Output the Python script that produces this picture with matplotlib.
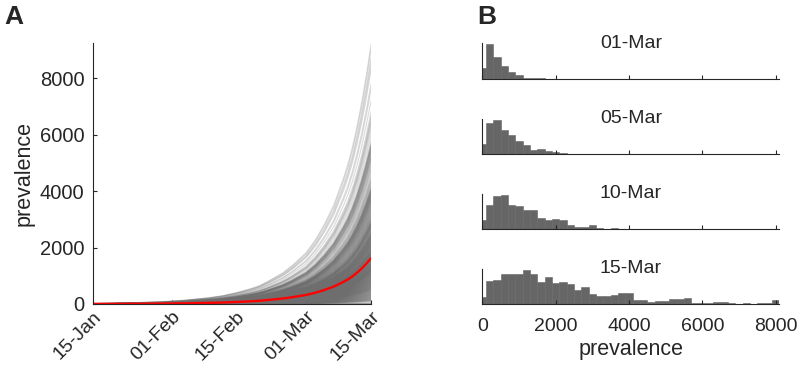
import numpy as np
import matplotlib
matplotlib.use("Agg")
import matplotlib.pyplot as plt
import matplotlib.dates as mdates

plt.rcParams['font.family'] = ['Liberation Sans', 'DejaVu Sans']

# panel A: median trajectory (red)
start = np.datetime64('2020-01-15')
median_days = [0, 5, 10, 15, 20, 25, 28, 31, 34, 36, 38, 41, 43, 46, 48, 50,
               52, 54, 55, 56, 57, 58, 59, 60]
median_prev = [3, 5, 9, 14, 24, 39, 52, 71, 95, 115, 145, 195, 240, 320, 400, 500,
               620, 780, 870, 980, 1110, 1260, 1430, 1620]
# a few single trajectories above the last histogram bin
high_final = [8300, 8500, 8700, 9000, 9200]

# panel B: histogram bar heights, bins centred on 0, 200, ..., 8000
bin_centers = np.arange(0, 8001, 200)
mar01 = [32, 104, 65, 37, 19, 12, 2, 1, 1] + [0] * 32
mar05 = [30, 93, 103, 73, 56, 40, 28, 13, 15, 8, 5, 2, 1, 1, 1, 1] + [0] * 25
mar10 = [28, 73, 98, 102, 73, 70, 58, 58, 33, 28, 30, 28, 12, 7, 7, 13, 5, 2, 4, 2,
         0, 1, 0, 1, 0, 0, 1] + [0] * 14
mar15 = [22, 70, 73, 90, 90, 90, 103, 90, 65, 80, 63, 65, 60, 43, 50, 30, 25, 25, 27, 33,
         33, 12, 12, 7, 9, 9, 14, 14, 19, 4, 2, 2, 5, 5, 2, 1, 2, 1, 3, 3, 12]
hist_titles = ['01-Mar', '05-Mar', '10-Mar', '15-Mar']
hist_data = [mar01, mar05, mar10, mar15]

txt = '#262626'
bar_col = '#666666'

fig = plt.figure(figsize=(8, 3.73), dpi=100)

# ---- panel A
axA = fig.add_axes([0.1159, 0.185, 0.3479, 0.6997])
dates = start + np.array(median_days).astype('timedelta64[D]')
shape = np.array(median_prev, dtype=float) / median_prev[-1]

ends = []
for c, h in zip(bin_centers[:-1], mar15[:-1]):
    n = int(round(h / 3))
    if n > 0:
        ends.extend(list(c - 100 + 200 * (np.arange(n) + 0.5) / n))
ends = np.clip(np.array(ends + high_final, dtype=float), 5, None)
Y = ends[:, None] * shape[None, :]

axA.plot(dates, Y.T, color='#6e6e6e', alpha=0.25, lw=0.8)
axA.plot(dates, median_prev, color='red', lw=1.7)

axA.set_xlim(np.datetime64('2020-01-15'), np.datetime64('2020-03-15'))
axA.set_ylim(0, 9250)
axA.set_yticks([0, 2000, 4000, 6000, 8000])
xt = [np.datetime64(d) for d in ['2020-01-15', '2020-02-01', '2020-02-15',
                                  '2020-03-01', '2020-03-15']]
axA.set_xticks(xt)
axA.xaxis.set_major_formatter(mdates.DateFormatter('%d-%b'))
axA.tick_params(axis='y', direction='in', length=3, labelsize=14.5, colors=txt, pad=6)
axA.tick_params(axis='x', direction='in', length=3, labelsize=14, colors=txt, pad=3)
plt.setp(axA.get_xticklabels(), rotation=45, ha='right', va='top',
         rotation_mode='anchor')
axA.set_ylabel('prevalence', fontsize=15.5, color=txt, labelpad=4)
for s in ['top', 'right']:
    axA.spines[s].set_visible(False)
for s in ['left', 'bottom']:
    axA.spines[s].set_color(txt)
    axA.spines[s].set_linewidth(0.8)

# ---- panel B
bottoms = [0.789, 0.5871, 0.3853, 0.185]
for i, (b, title, heights) in enumerate(zip(bottoms, hist_titles, hist_data)):
    ax = fig.add_axes([0.6029, b, 0.3713, 0.095])
    ax.bar(bin_centers, heights, width=200, color=bar_col, edgecolor=bar_col,
           linewidth=0.4)
    ax.set_xlim(0, 8100)
    ax.set_ylim(0, max(heights) * 1.03)
    ax.set_yticks([])
    ax.set_xticks([0, 2000, 4000, 6000, 8000])
    ax.tick_params(axis='x', direction='in', length=3, labelsize=14, colors=txt, pad=10)
    if i < 3:
        ax.set_xticklabels([])
    for s in ['top', 'right']:
        ax.spines[s].set_visible(False)
    for s in ['left', 'bottom']:
        ax.spines[s].set_color(txt)
        ax.spines[s].set_linewidth(0.8)
    ax.text(0.5, 0.88, title, transform=ax.transAxes, ha='center', va='baseline',
            fontsize=14, color=txt)
    if i == 3:
        ax.set_xlabel('prevalence', fontsize=15.5, color=txt, labelpad=3)

fig.text(0.006, 0.935, 'A', fontsize=19, fontweight='bold', color=txt)
fig.text(0.597, 0.935, 'B', fontsize=19, fontweight='bold', color=txt)

fig.savefig('out.png', dpi=100)
